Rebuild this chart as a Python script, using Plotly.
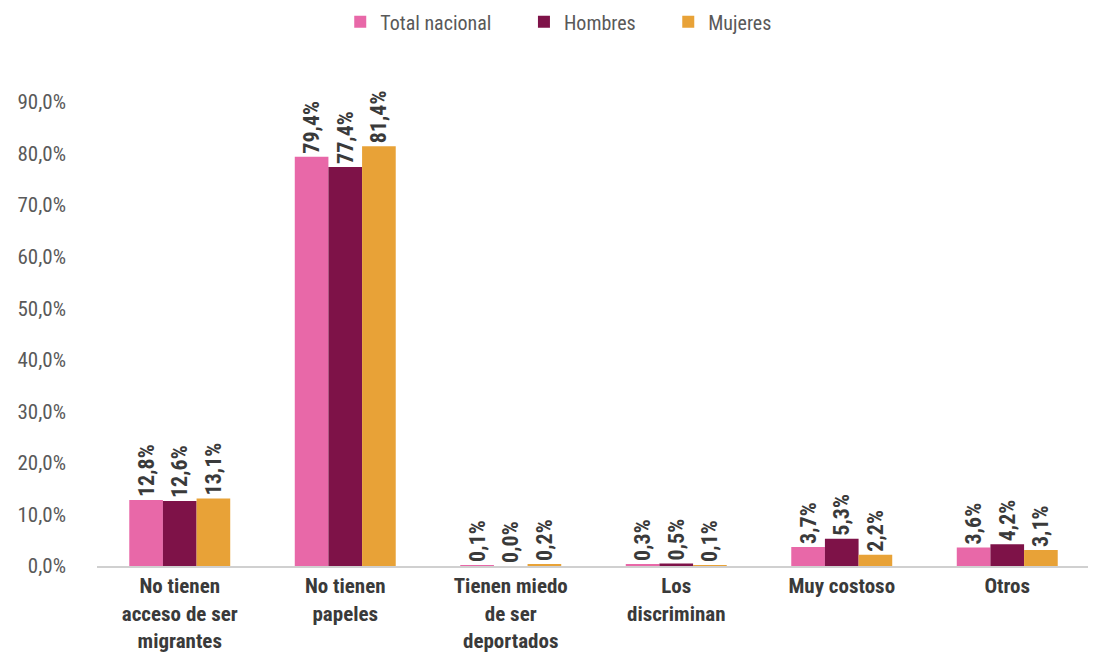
import plotly.graph_objects as go

categories = ["No tienen<br>acceso de ser<br>migrantes", "No tienen<br>papeles",
              "Tienen miedo<br>de ser<br>deportados", "Los<br>discriminan",
              "Muy costoso", "Otros"]
total = [12.8, 79.4, 0.1, 0.3, 3.7, 3.6]
hombres = [12.6, 77.4, 0.0, 0.5, 5.3, 4.2]
mujeres = [13.1, 81.4, 0.2, 0.1, 2.2, 3.1]
series_names = ["Total nacional", "Hombres", "Mujeres"]
colors = ["#E868A8", "#7E1248", "#E8A237"]
y_ticks = [0, 10, 20, 30, 40, 50, 60, 70, 80, 90]
y_ticktext = ["0,0%", "10,0%", "20,0%", "30,0%", "40,0%", "50,0%", "60,0%", "70,0%", "80,0%", "90,0%"]

FONT = "Roboto Condensed, Liberation Sans Narrow, Roboto, sans-serif"

fig = go.Figure()
for i, (name, vals, col) in enumerate(zip(series_names, [total, hombres, mujeres], colors)):
    label = name + ("&nbsp;" * 6 if i < 2 else "")
    fig.add_trace(go.Bar(
        x=categories, y=vals, name=label, marker_color=col,
        marker_line_width=0,
        texttemplate="%{y:.1f}%", textposition="outside", textangle=-90,
        constraintext="none",
        textfont=dict(family=FONT, size=22, color="#3a3a3a", weight="bold"),
        cliponaxis=False,
    ))

fig.update_layout(
    width=1088, height=644,
    barmode="group", bargap=0.39, bargroupgap=0,
    separators=",.",
    paper_bgcolor="white", plot_bgcolor="white",
    margin=dict(l=89, r=6, t=94, b=86, autoexpand=False),
    font=dict(family=FONT, size=20, color="#595959"),
    legend=dict(orientation="h", x=0.465, xanchor="center", y=1.215, yanchor="top",
                font=dict(family=FONT, size=20, color="#595959"),
                itemwidth=30, traceorder="normal"),
    xaxis=dict(showline=True, linecolor="#d0d0d0", linewidth=2, ticks="",
               tickfont=dict(family=FONT, size=21, color="#3a3a3a", weight="bold")),
    yaxis=dict(range=[0, 90], tickvals=y_ticks, ticktext=y_ticktext,
               showgrid=False, zeroline=False, showline=False,
               ticklabelstandoff=30,
               tickfont=dict(family=FONT, size=21, color="#595959")),
)

fig.write_html("out.html")
